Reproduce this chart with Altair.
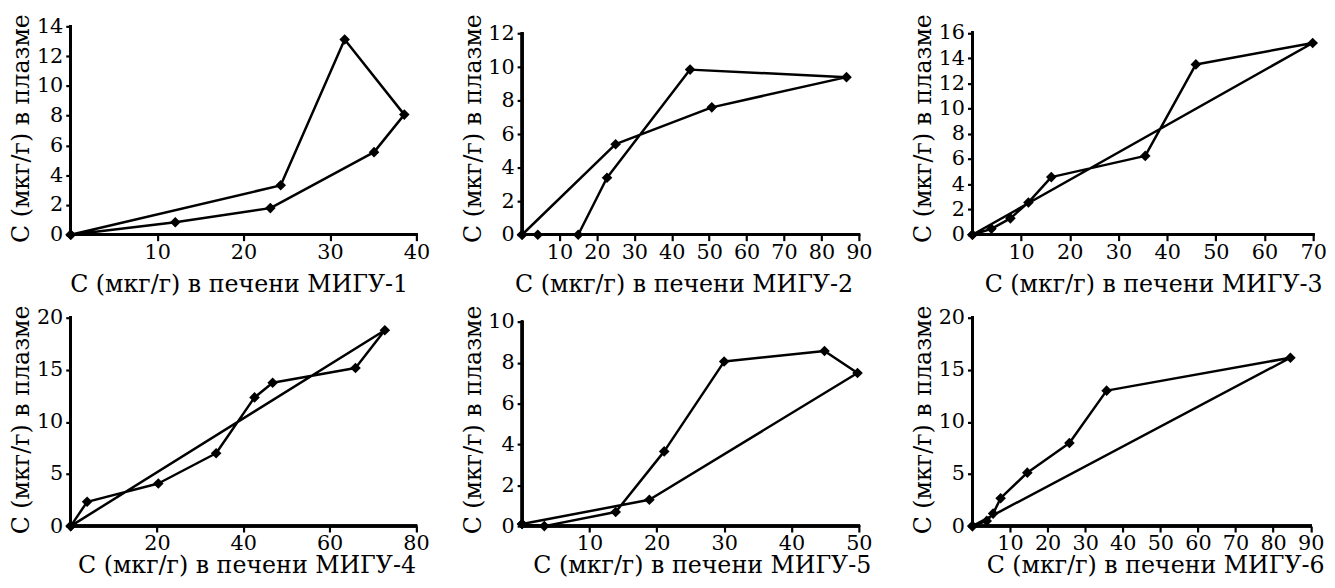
import altair as alt
import pandas as pd

FONT = "DejaVu Serif"
YTITLE = "С (мкг/г) в плазме"

# МИГУ-1
p1_x = [0, 24.3, 31.7, 38.6, 35.1, 23.1, 12.1, 0]
p1_y = [0, 3.32, 13.12, 8.07, 5.55, 1.79, 0.84, 0]
p1_xticks = [10, 20, 30, 40]
p1_yticks = [0, 2, 4, 6, 8, 10, 12, 14]

# МИГУ-2
p2_x = [0, 4.2, 15.0, 22.7, 44.9, 86.7, 50.7, 25.0, 0]
p2_y = [0, 0, 0, 3.4, 9.85, 9.4, 7.6, 5.4, 0]
p2_xticks = [10, 20, 30, 40, 50, 60, 70, 80, 90]
p2_yticks = [0, 2, 4, 6, 8, 10, 12]

# МИГУ-3
p3_x = [0, 3.9, 7.8, 11.5, 16.2, 35.5, 45.9, 69.9, 0]
p3_y = [0, 0.47, 1.3, 2.56, 4.57, 6.25, 13.5, 15.2, 0]
p3_xticks = [10, 20, 30, 40, 50, 60, 70]
p3_yticks = [0, 2, 4, 6, 8, 10, 12, 14, 16]

# МИГУ-4
p4_x = [0, 3.8, 20.3, 33.7, 42.6, 46.8, 66.0, 72.8, 0]
p4_y = [0, 2.33, 4.09, 6.99, 12.35, 13.76, 15.18, 18.8, 0]
p4_xticks = [20, 40, 60, 80]
p4_yticks = [0, 5, 10, 15, 20]

# МИГУ-5
p5_x = [0, 3.3, 13.9, 21.1, 30.0, 44.9, 49.8, 18.9, 0]
p5_y = [0.1, 0, 0.69, 3.66, 8.06, 8.58, 7.5, 1.29, 0.1]
p5_xticks = [10, 20, 30, 40, 50]
p5_yticks = [0, 2, 4, 6, 8, 10]

# МИГУ-6
p6_x = [0, 3.8, 5.5, 7.5, 14.6, 25.8, 35.7, 84.6, 0]
p6_y = [0, 0.5, 1.2, 2.68, 5.13, 7.97, 13.0, 16.16, 0]
p6_xticks = [10, 20, 30, 40, 50, 60, 70, 80, 90]
p6_yticks = [0, 5, 10, 15, 20]

H = 211
LBL = 21
TTL = 24


def panel(xs, ys, xticks, yticks, xdom, ydom, w, label, title_cx, title_dy):
    df = pd.DataFrame({"x": xs, "y": ys, "t": list(range(len(xs)))})
    xsc = alt.Scale(domain=[0, xdom], nice=False, zero=True)
    ysc = alt.Scale(domain=[0, ydom], nice=False, zero=True)
    xaxis = alt.Axis(
        values=xticks, domain=False, grid=False, tickSize=6, tickWidth=2.2,
        tickColor="black", labelPadding=1, labelFlush=False, labelOverlap=False,
        labelFont=FONT, labelFontSize=LBL, labelColor="black",
        titleFont=FONT, titleFontSize=TTL, titleFontWeight="normal", titleColor="black",
        format="d", title=label, titleX=title_cx, titleY=title_dy,
        titleBaseline="alphabetic", titleAlign="center",
    )
    yaxis = alt.Axis(
        values=yticks, domain=False, grid=False, tickSize=5, tickWidth=2.2,
        tickColor="black", labelPadding=3, labelFlush=False, labelOverlap=False,
        labelFont=FONT, labelFontSize=LBL, labelColor="black",
        titleFont=FONT, titleFontSize=TTL, titleFontWeight="normal", titleColor="black",
        format="d", title=YTITLE, titleAngle=270, titleX=-42.5, titleY=H / 2 - 2.5,
        titleBaseline="alphabetic", titleAlign="center",
    )
    base = alt.Chart(df)
    line = base.mark_line(color="black", strokeWidth=2.5, strokeJoin="round").encode(
        x=alt.X("x:Q", scale=xsc, axis=xaxis),
        y=alt.Y("y:Q", scale=ysc, axis=yaxis),
        order="t:Q",
    )
    pts = base.mark_point(shape="diamond", filled=True, size=115, color="black",
                          opacity=1).encode(
        x=alt.X("x:Q", scale=xsc, axis=xaxis),
        y=alt.Y("y:Q", scale=ysc, axis=yaxis))
    xline = base.mark_rule(color="black", strokeWidth=2.5, strokeCap="square").encode(
        x=alt.X(datum=0, scale=xsc, axis=xaxis),
        x2=alt.X2(datum=xticks[-1]),
        y=alt.Y(datum=0, scale=ysc, axis=yaxis))
    yline = base.mark_rule(color="black", strokeWidth=2.5, strokeCap="square").encode(
        x=alt.X(datum=0, scale=xsc, axis=xaxis),
        y=alt.Y(datum=0, scale=ysc, axis=yaxis),
        y2=alt.Y2(datum=yticks[-1]))
    return alt.layer(line, xline, yline, pts).properties(width=w, height=H)


p1 = panel(p1_x, p1_y, p1_xticks, p1_yticks, 40, 14, 350,
           "С (мкг/г) в печени МИГУ-1", 170, 57)
p2 = panel(p2_x, p2_y, p2_xticks, p2_yticks, 90 * 349 / 341, 12 * 211 / 203.7, 349,
           "С (мкг/г) в печени МИГУ-2", 163.5, 57)
p3 = panel(p3_x, p3_y, p3_xticks, p3_yticks, 70, 16 * 211 / 204.4, 345,
           "С (мкг/г) в печени МИГУ-3", 183, 57)
p4 = panel(p4_x, p4_y, p4_xticks, p4_yticks, 80, 20, 349.5,
           "С (мкг/г) в печени МИГУ-4", 178, 47)
p5 = panel(p5_x, p5_y, p5_xticks, p5_yticks, 50 * 349 / 341, 10 * 211 / 206.7, 349,
           "С (мкг/г) в печени МИГУ-5", 182, 47)
p6 = panel(p6_x, p6_y, p6_xticks, p6_yticks, 90, 20, 342.5,
           "С (мкг/г) в печени МИГУ-6", 185, 47)

chart = alt.concat(
    p1, p2, p3, p4, p5, p6,
    columns=3,
    spacing={"row": 84, "column": 107},
    bounds="flush",
).configure_view(stroke=None).configure_axis(
    labelFont=FONT, titleFont=FONT, labelColor="black", titleColor="black",
    labelFontSize=LBL, titleFontSize=TTL, titleFontWeight="normal",
).properties(background="white", padding={"left": 1.5, "top": 2, "right": 0, "bottom": 0})

chart.save("out.html", embed_options={"renderer": "svg", "actions": False})
